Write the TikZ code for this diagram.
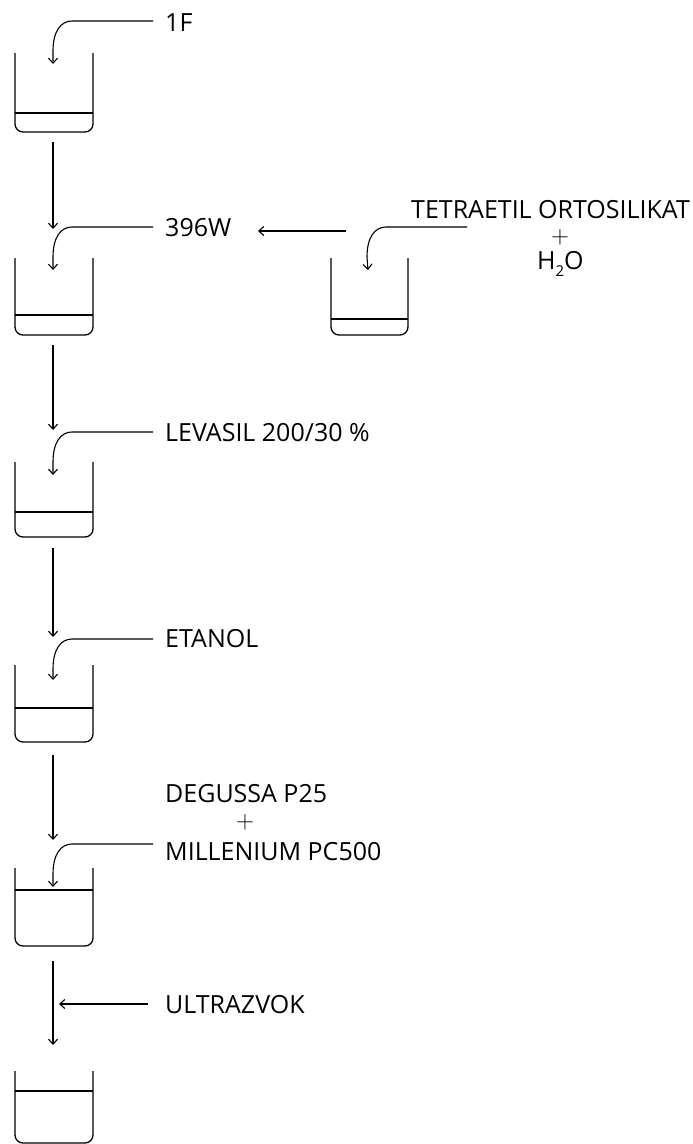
\documentclass[tikz,border=0pt]{standalone}
\usepackage{fontspec}
\setmainfont{Open Sans}
\usetikzlibrary{arrows.meta}
\tikzset{
  conn/.style={line width=1.1pt,-{Straight Barb[length=5pt,width=9pt,line width=1.1pt]}},
  vessel/.style={line width=1.3pt},
  lbl/.style={anchor=base west,inner sep=0pt,font=\fontsize{25}{30}\selectfont},
  plus/.style={inner sep=0pt,font=\fontsize{27}{28}\selectfont}
}
% beaker: left x, right x, top y, liquid y, bottom y
\newcommand{\mybeaker}[5]{%
  \draw[vessel] (#1,#3) -- (#1,#5-8) arc[start angle=180,end angle=270,radius=8pt] -- (#2-8,#5) arc[start angle=270,end angle=360,radius=8pt] -- (#2,#3);
  \draw[vessel] (#1,#4) -- (#2,#4);
}
\begin{document}
\begin{tikzpicture}[x=1pt,y=-1pt]
\useasboundingbox (0,0) rectangle (693,1144);
% beakers
\mybeaker{15}{93}{53}{113}{132}
\mybeaker{15}{93}{258}{315}{335}
\mybeaker{15}{93}{462}{512}{537}
\mybeaker{15}{93}{665}{708}{742}
\mybeaker{15}{93}{868}{890}{946}
\mybeaker{15}{93}{1071}{1091}{1143}
\mybeaker{331}{408}{258}{319}{335}
% labels
\node[lbl] (t1) at (165,31) {1F};
\node[lbl] (t2) at (165,236) {396W};
\node[lbl] (t3) at (165,441) {LEVASIL 200/30 \%};
\node[lbl] (t4) at (165,647) {ETANOL};
\node[lbl] (t5a) at (165,802) {DEGUSSA P25};
\node[plus] (p5) at (245,822) {$+$};
\node[lbl] (t5b) at (165,860) {MILLENIUM PC500};
\node[lbl] (t6) at (165,1013) {ULTRAZVOK};
\node[lbl] (ts) at (411,218) {TETRAETIL ORTOSILIKAT};
\node[plus] (ps) at (560,237) {$+$};
\node[lbl] (tw) at (537,269) {H\raisebox{-0.28em}{\fontsize{15}{15}\selectfont 2}O};
% connector coordinates
\coordinate (s1) at (153,21);   \coordinate (e1) at (53,64);
\coordinate (s2) at (153,227);  \coordinate (e2) at (53,270);
\coordinate (s3) at (153,432);  \coordinate (e3) at (53,475);
\coordinate (s4) at (153,639);  \coordinate (e4) at (53,680);
\coordinate (s5) at (153,844);  \coordinate (e5) at (53,887);
\coordinate (ss) at (467,227);  \coordinate (es) at (368,270);
\coordinate (v1a) at (53,142);  \coordinate (v1b) at (53,229);
\coordinate (v2a) at (53,345);  \coordinate (v2b) at (53,430);
\coordinate (v3a) at (53,548);  \coordinate (v3b) at (53,637);
\coordinate (v4a) at (53,755);  \coordinate (v4b) at (53,840);
\coordinate (v5a) at (53,961);  \coordinate (v5b) at (53,1045);
\coordinate (ha) at (346,231);  \coordinate (hb) at (258,231);
\coordinate (ua) at (148,1004); \coordinate (ub) at (59,1004);
% curved feed arrows
\foreach \s/\e in {s1/e1,s2/e2,s3/e3,s4/e4,s5/e5,ss/es}{
  \draw[conn] (\s) -- ([xshift=-81pt]\s) .. controls ([xshift=-92pt]\s) and ([xshift=-100pt,yshift=-10pt]\s) .. ([xshift=-100pt,yshift=-30pt]\s) -- (\e);
}
% straight arrows
\foreach \a/\b in {v1a/v1b,v2a/v2b,v3a/v3b,v4a/v4b,v5a/v5b,ha/hb,ua/ub}{
  \draw[conn] (\a) -- (\b);
}
\end{tikzpicture}
\end{document}
